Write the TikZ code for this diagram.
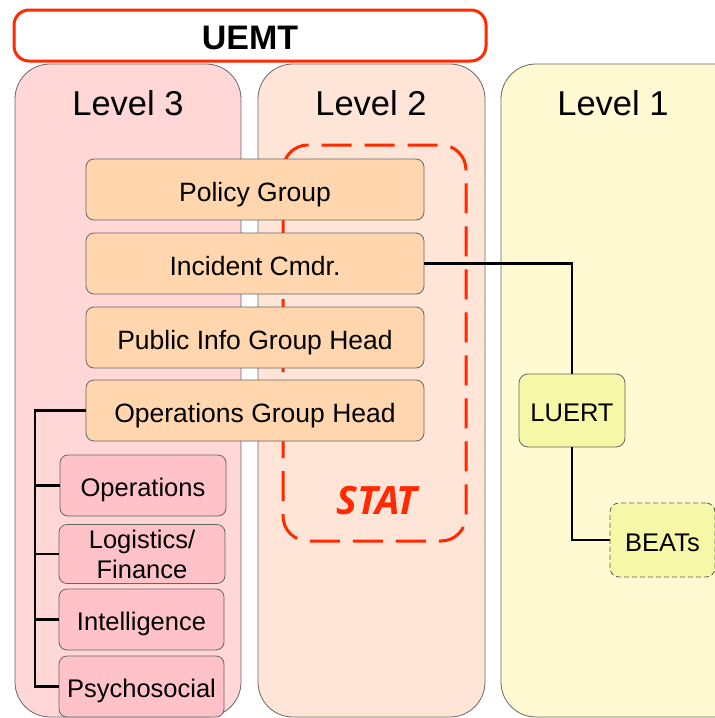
\documentclass[tikz,border=0pt]{standalone}
\usepackage{fontspec}
\setmainfont{Liberation Sans}
\newfontfamily\statfont{Open Sans}
\definecolor{uemtred}{HTML}{FF2A00}
\definecolor{lvthree}{HTML}{FFD7D7}
\definecolor{lvtwo}{HTML}{FFE5D8}
\definecolor{lvone}{HTML}{FFFAD2}
\definecolor{orbox}{HTML}{FFD6AD}
\definecolor{pkbox}{HTML}{FFC2C8}
\definecolor{ylbox}{HTML}{F7F7A8}
\definecolor{bord}{HTML}{666666}
\begin{document}
\begin{tikzpicture}[x=1pt,y=-1pt,
  panel/.style={draw=bord, line width=0.8pt, rounded corners=35pt},
  lvl/.style={font=\fontsize{34.5}{40}\selectfont, inner sep=0pt},
  basebox/.style={draw=bord, line width=0.8pt, rounded corners=8pt, inner sep=0pt},
  obox/.style={basebox, text height=24pt, text depth=0pt, fill=orbox, minimum width=338pt, minimum height=61pt, font=\fontsize{26.5}{30}\selectfont},
  pboxtwo/.style={basebox, fill=pkbox, minimum width=165pt, minimum height=61pt, align=center, font=\fontsize{25.5}{30}\selectfont},
  pbox/.style={pboxtwo, text height=22pt, text depth=0pt},
  ybox/.style={basebox, text height=22.5pt, text depth=0pt, fill=ylbox, rounded corners=9pt, minimum width=106pt, minimum height=73pt, font=\fontsize{25.5}{29}\selectfont},
  conn/.style={draw=black, line width=2.5pt}]
\useasboundingbox (0,0) rectangle (715,718);
\clip (0,0) rectangle (715,718);
% panels
\draw[panel, fill=lvthree] (15,64) rectangle (241,717);
\draw[panel, fill=lvtwo] (258,64) rectangle (485,717);
\draw[panel, fill=lvone] (501,64) rectangle (760,717);
\node[lvl] (l3) at (128,103) {Level 3};
\node[lvl] (l2) at (371,103) {Level 2};
\node[lvl] (l1) at (613,103) {Level 1};
% UEMT
\node[draw=uemtred, line width=3pt, fill=white, rounded corners=15pt, minimum width=472pt, minimum height=51pt, inner sep=0pt, text height=28pt, text depth=0pt, font=\fontsize{34}{40}\selectfont\bfseries] (uemt) at (250,35.5) {UEMT};
% STAT
\draw[draw=uemtred, line width=3pt, dash pattern=on 30pt off 13pt, rounded corners=25pt] (283,145) rectangle (466,541);
\node[text=uemtred, font=\statfont\fontsize{39}{44}\selectfont\bfseries\itshape, inner sep=0pt, text height=27.8pt, text depth=0pt] (stat) at (377,500.5) {STAT};
% orange boxes
\node[obox] (pg) at (255,189.5) {Policy Group};
\node[obox] (ic) at (255,263.5) {Incident Cmdr.};
\node[obox] (pi) at (255,337.5) {Public Info Group Head};
\node[obox] (og) at (255,410.5) {Operations Group Head};
% pink boxes
\node[pbox, minimum width=166pt] (ops) at (143,485.5) {Operations};
\node[pboxtwo, minimum width=166pt, minimum height=59pt] (log) at (142,554) {Logistics/\\Finance};
\node[pbox] (int) at (141.5,619.5) {Intelligence};
\node[pbox] (psy) at (141.5,686.5) {Psychosocial};
% level 1 boxes
\node[ybox] (luert) at (572,410.5) {LUERT};
\node[ybox, dash pattern=on 5pt off 3pt, draw=bord!90!black, minimum width=105pt, minimum height=74pt] (beats) at (662.5,540) {BEATs};
% connectors
\coordinate (trunk) at (35,410.5);
\draw[conn] (og.west) -- (trunk) |- (psy.west);
\draw[conn] (trunk |- ops.west) -- (ops.west);
\draw[conn] (trunk |- log.west) -- (log.west);
\draw[conn] (trunk |- int.west) -- (int.west);
\draw[conn] (ic.east) -| (luert.north);
\draw[conn] (luert.south) |- (beats.west);
\end{tikzpicture}
\end{document}
